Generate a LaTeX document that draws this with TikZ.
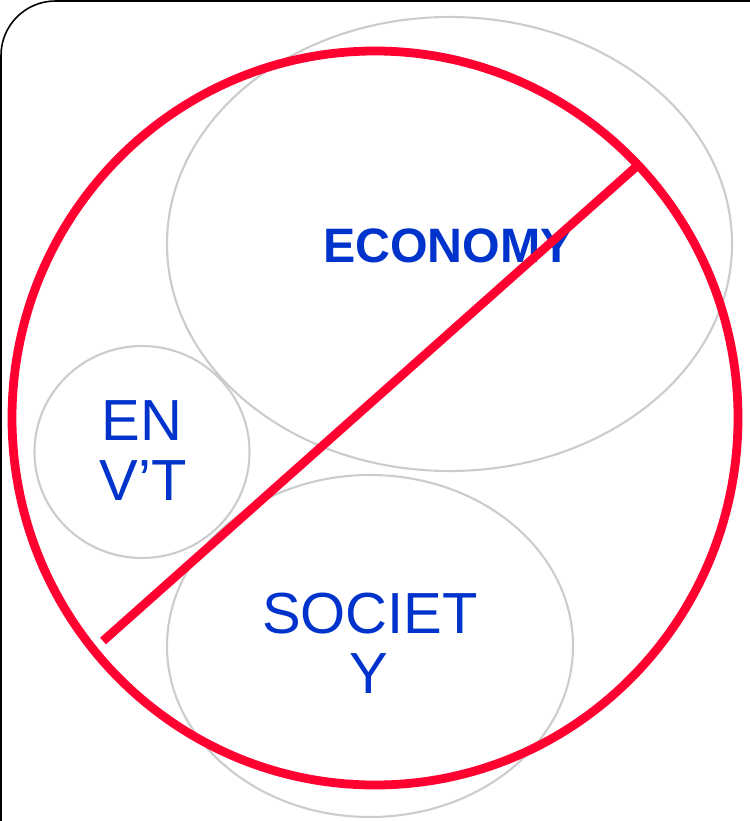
\documentclass[tikz,border=0pt]{standalone}
\usepackage{fontspec}
\setmainfont{Liberation Sans}
\definecolor{redx}{RGB}{255,0,48}
\definecolor{bluet}{RGB}{0,51,204}
\definecolor{greyl}{RGB}{204,204,204}
\begin{document}
\begin{tikzpicture}[x=0.02cm,y=-0.02cm,
  frame/.style={draw=black,line width=0.9pt,rounded corners=31pt},
  bubble/.style={draw=greyl,line width=1.2pt},
  crossout/.style={draw=redx,line width=5pt},
  lbl/.style={text=bluet,inner sep=0pt,anchor=base}]
\useasboundingbox (0,0) rectangle (750,821);
\coordinate (frameA) at (1,821);
\coordinate (frameB) at (750,1);
\draw[frame] (frameA) |- (frameB);
% grey bubbles
\draw[bubble] (449.5,244) ellipse [x radius=282.5,y radius=-227];
\draw[bubble] (142,452) ellipse [x radius=107.5,y radius=-106];
\draw[bubble] (370,646) ellipse [x radius=203,y radius=-171];
% labels
\node[lbl,font=\fontsize{27.5pt}{30pt}\bfseries] (eco) at (448,262) {ECONOMY};
\node[lbl,font=\fontsize{33pt}{36pt}\selectfont] (envA) at (142,440) {EN};
\node[lbl,font=\fontsize{33pt}{36pt}\selectfont] (envB) at (143,500) {V’T};
\node[lbl,font=\fontsize{33pt}{36pt}\selectfont] (socA) at (370,633) {SOCIET};
\node[lbl,font=\fontsize{33pt}{36pt}\selectfont] (socB) at (369,693) {Y};
% red prohibition sign
\draw[crossout] (375,418) ellipse [x radius=363,y radius=-367];
\coordinate (lineA) at (103,641);
\coordinate (lineB) at (637,166);
\draw[crossout] (lineA) -- (lineB);
\end{tikzpicture}
\end{document}
